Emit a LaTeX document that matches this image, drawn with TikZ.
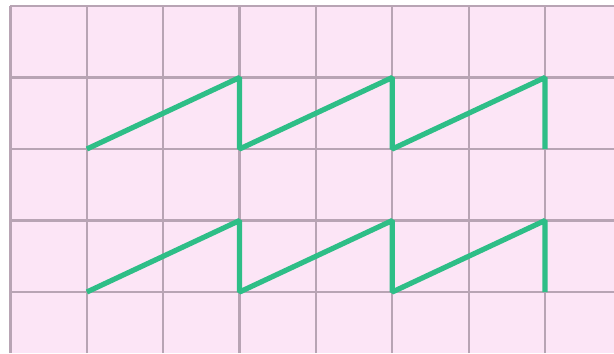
\documentclass[tikz,border=0pt]{standalone}
\definecolor{rosa}{RGB}{252,229,246}
\definecolor{gitter}{RGB}{184,164,180}
\definecolor{welle}{RGB}{46,190,135}
\begin{document}
\begin{tikzpicture}[x=76.35pt,y=71.5pt]
		% Rahmen
		\useasboundingbox (-0.1375,-0.853) rectangle (7.904,4.084);
		\fill[white] (-0.1375,-0.853) rectangle (7.904,4.084);
		
		% Hintergrund
		\fill[rosa] (0,-0.853) rectangle (7.904,4);
		
		% Gitter
		\foreach \x in {0,1,...,7}
		\draw[gitter,line width=2.2pt] (\x,-0.853) -- (\x,4);
		\foreach \y in {0,1,...,4}
		\draw[gitter,line width=2.2pt] (0,\y) -- (7.904,\y);
		
		% Saegezahn oben
		\draw[welle,line width=5.2pt,line join=bevel] (1,2) -- (3,3) -- (3,2) -- (5,3) -- (5,2) -- (7,3) -- (7,2);
		
		% Saegezahn unten
		\draw[welle,line width=5.2pt,line join=bevel] (1,0) -- (3,1) -- (3,0) -- (5,1) -- (5,0) -- (7,1) -- (7,0);
	\end{tikzpicture}
\end{document}
